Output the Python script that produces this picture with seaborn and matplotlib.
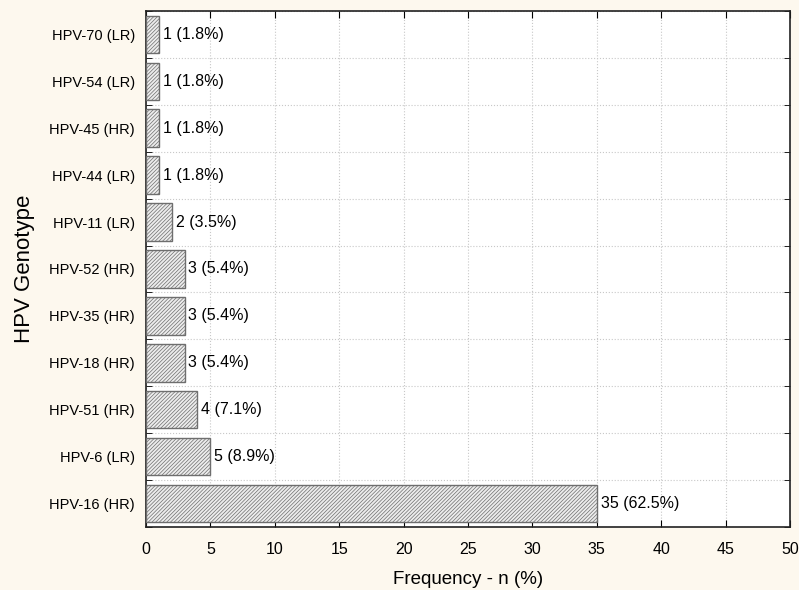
import numpy as np
import pandas as pd
import matplotlib
matplotlib.use('Agg')
import matplotlib.pyplot as plt
import seaborn as sns

# 데이터
genotypes = ['HPV-70 (LR)', 'HPV-54 (LR)', 'HPV-45 (HR)', 'HPV-44 (LR)', 'HPV-11 (LR)',
             'HPV-52 (HR)', 'HPV-35 (HR)', 'HPV-18 (HR)', 'HPV-51 (HR)', 'HPV-6 (LR)',
             'HPV-16 (HR)']
counts = [1, 1, 1, 1, 2, 3, 3, 3, 4, 5, 35]
percents = [1.8, 1.8, 1.8, 1.8, 3.5, 5.4, 5.4, 5.4, 7.1, 8.9, 62.5]

df = pd.DataFrame({'genotype': genotypes, 'n': counts, 'pct': percents})

sns.set_style('white')
plt.rcParams['font.family'] = ['Liberation Sans', 'DejaVu Sans']
plt.rcParams['text.color'] = 'black'
plt.rcParams['axes.labelcolor'] = 'black'
plt.rcParams['xtick.color'] = 'black'
plt.rcParams['ytick.color'] = 'black'
plt.rcParams['hatch.color'] = '#8a8a8a'
plt.rcParams['hatch.linewidth'] = 0.5

fig = plt.figure(figsize=(7.99, 5.90), dpi=100, facecolor='#fdf8ee')
ax = fig.add_axes([0.1827, 0.1068, 0.806, 0.8746])
ax.set_facecolor('white')

sns.barplot(data=df, y='genotype', x='n', orient='h', order=genotypes,
            color='#ececec', edgecolor='#6e6e6e', linewidth=1.0,
            width=0.8, ax=ax, zorder=3)
for p in ax.patches:
    p.set_hatch('/////////')

for i, (n, pc) in enumerate(zip(counts, percents)):
    ax.text(n + 0.3, i, f'{n} ({pc}%)', va='center', ha='left', fontsize=11.5)

ax.set_xlim(0, 50)
ax.set_ylim(len(genotypes) - 0.5, -0.5)
ax.set_xticks(np.arange(0, 51, 5))
ax.set_yticks(np.arange(len(genotypes)))
ax.set_yticks(np.arange(len(genotypes) + 1) - 0.5, minor=True)
ax.tick_params(axis='y', which='major', length=0, labelsize=10.5, pad=8)
ax.tick_params(axis='y', which='minor', direction='in', length=4, right=True, left=True)
ax.tick_params(axis='x', which='major', direction='in', length=5, top=True, bottom=True,
               labelsize=11.5, pad=11)

ax.grid(False)
ax.xaxis.grid(True, which='major', linestyle=':', color='#c8c8c8', linewidth=0.8, zorder=0)
ax.yaxis.grid(True, which='minor', linestyle=':', color='#c8c8c8', linewidth=0.8, zorder=0)

for s in ax.spines.values():
    s.set_color('#222222')
    s.set_linewidth(1.2)

ax.set_xlabel('Frequency - n (%)', fontsize=13.5, labelpad=10)
ax.set_ylabel('HPV Genotype', fontsize=16, labelpad=10)

plt.savefig('out.png', dpi=100, facecolor=fig.get_facecolor())
